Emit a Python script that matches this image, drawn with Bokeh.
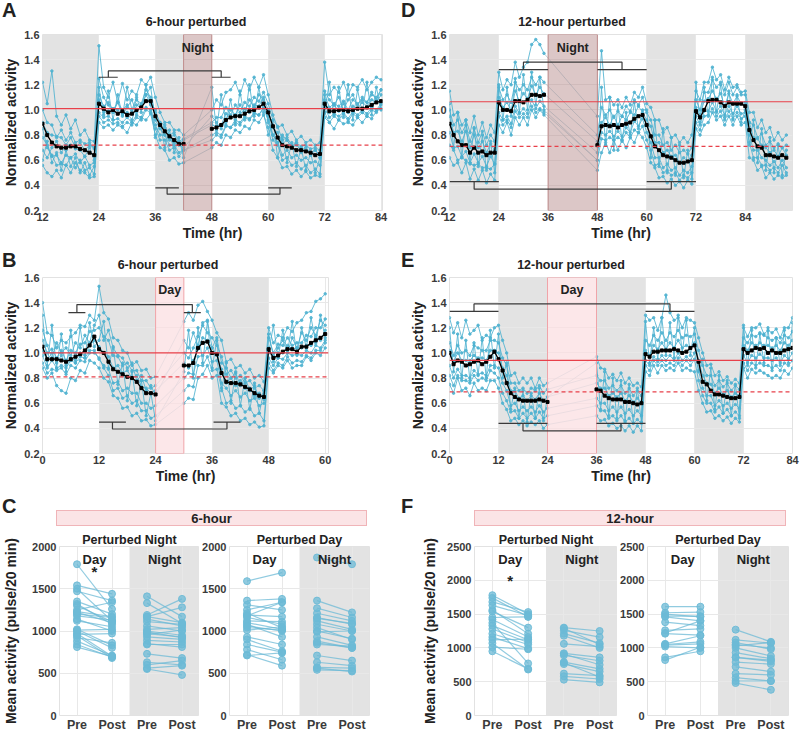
import math
from bokeh.plotting import figure
from bokeh.layouts import row, column
from bokeh.models import Label, Div, Range1d, FixedTicker, PrintfTickFormatter, Span
from bokeh.embed import file_html
from bokeh.resources import INLINE

# ---------------------------------------------------------------- data
Y_TICKS = [0.2, 0.4, 0.6, 0.8, 1.0, 1.2, 1.4, 1.6]

# ---- panel A : 6-hour perturbed night (values = normalized activity x 100)
A_HOURS = list(range(12, 43)) + list(range(48, 85))
A_XTICKS = [12, 24, 36, 48, 60, 72, 84]
A_NIGHTS = [(12, 24), (36, 42), (60, 72)]
A_BAND = (42, 48)
A_REF = (1.01, 0.72)
A_CMP_TOP = [24, 28, 48, 52, 1.26, 1.31]
A_CMP_BOT = [36, 41, 60, 65, 0.38, 0.33]
A_MEAN = [89,80,74,71,70,70,71,71,69,68,66,64, 105,101,98,100,97,99,96,97,100,102,107,107, 95,88,83,79,76,73,73,
          85,86,88,92,94,95,95,97,99,100,102,105, 98,87,78,72,71,70,68,68,67,66,64,65, 105,99,99,100,100,99,100,101,101,102,104,106,107]
A_TR1 = [122,105,131,95,88,96,85,92,80,84,76,75, 151,118,110,122,106,121,108,115,112,124,120,126, 110,98,90,90,84,84,80,
         100,108,104,114,116,122,112,124,116,126,118,128, 112,96,86,88,80,83,76,79,74,76,72,74, 138,112,118,114,122,112,120,118,124,116,122,126,124]
A_TR2 = [56,50,47,52,46,56,50,58,52,50,46,47, 90,86,88,84,88,86,82,90,88,94,92,97, 80,70,68,60,62,57,58,
         70,74,72,80,78,84,82,87,85,92,90,96, 86,68,62,54,55,49,52,47,51,46,48,47, 94,90,85,92,89,90,88,94,90,95,93,99,101]
A_TR3 = [100,90,88,78,84,76,82,74,76,73,74,69, 112,103,106,100,106,100,104,98,108,105,116,110, 98,90,88,80,82,75,77,
         90,94,94,102,96,104,98,106,103,110,107,114, 105,92,87,76,78,72,74,71,72,69,70,68, 112,102,105,103,107,100,108,105,108,106,112,110,116]
A_TR4 = [78,72,63,64,58,64,62,65,58,63,56,58, 98,94,95,92,93,90,94,90,96,94,102,100, 88,80,80,72,72,66,68,
         80,82,80,88,86,92,90,95,93,98,96,101, 95,80,74,64,68,62,64,60,62,58,59,56, 102,94,97,95,98,93,99,96,100,97,102,100,105]
A_TR5 = [90,82,80,79,78,72,72,69,68,63,70,60, 108,98,99,101,100,97,98,92,104,101,112,105, 100,88,86,78,80,73,76,
         88,87,88,97,94,96,96,101,98,104,103,110, 100,86,82,73,76,70,72,68,70,66,68,64, 108,98,104,99,105,98,103,101,106,103,108,106,112]
A_TR6 = [85,70,64,56,57,56,62,54,60,52,54,49, 95,90,92,89,90,87,90,88,94,92,100,98, 85,76,76,68,70,63,68,
         76,80,78,87,86,90,88,94,92,97,96,102, 92,76,72,60,62,56,58,53,56,50,53,49, 98,90,95,92,97,91,97,94,98,95,100,98,104]
A_TR7 = [68,62,70,75,66,72,78,70,74,68,72,70, 125,110,104,98,106,96,102,108,98,104,112,118, 92,85,80,76,74,72,70,
         95,90,85,92,100,96,104,98,108,102,112,108, 90,80,74,80,76,70,74,66,70,64,68,62, 115,108,104,110,100,108,112,104,110,106,114,108,116]
A_TR8 = [60,75,58,66,52,68,55,62,50,58,48,55, 118,96,115,92,112,95,118,100,110,98,120,104, 78,90,70,84,66,78,62,
         118,84,112,90,108,88,115,92,120,95,118,98, 80,92,62,78,58,74,55,70,52,66,50,62, 98,122,96,118,94,120,92,116,98,122,96,118,100]

# ---- panel B : 6-hour perturbed day
B_HOURS = list(range(0, 25)) + list(range(30, 61))
B_XTICKS = [0, 12, 24, 36, 48, 60]
B_NIGHTS = [(12, 24), (36, 48)]
B_BAND = (24, 30)
B_REF = (1.00, 0.81)
B_CMP_TOP = [5.5, 9.1, 30, 33.6, 1.32, 1.385]
B_CMP_BOT = [12, 17.7, 36.3, 42, 0.45, 0.395]
B_MEAN = [105,95,95,95,94,93,95,97,99,102,106,113, 103,100,93,87,85,83,81,80,77,72,68,68,67,
          90,90,92,104,108,109,100,99,84,77,76,76,75,73,71,68,66,65, 103,96,98,101,103,103,101,105,105,108,110,112,115]
B_TR1 = [140,116,114,104,110,108,113,116,122,121,130,126, 153,132,127,112,110,102,100,90,93,86,87,80,81,
         125,132,126,138,141,133,126,116,110,93,95,88,90,84,87,80,82,77, 120,108,114,112,120,117,124,126,132,133,141,143,147]
B_TR2 = [88,80,84,74,70,68,80,78,86,84,94,92, 88,80,77,66,64,56,57,50,52,46,47,42,43,
         60,64,63,80,83,90,80,82,60,57,50,52,46,48,43,45,41,42, 88,84,90,88,94,88,90,90,97,94,100,98,104]
B_TR3 = [110,100,103,96,102,94,102,100,107,108,117,118, 120,113,110,98,97,90,92,86,86,78,78,72,74,
         100,96,104,113,122,116,112,106,97,83,86,80,82,76,78,72,74,70, 112,100,107,106,112,106,108,108,114,113,120,120,127]
B_TR4 = [98,88,94,88,90,88,94,92,97,96,102,102, 95,90,87,76,77,70,72,68,68,60,60,56,58,
         80,84,83,97,98,104,93,94,76,72,66,70,65,68,62,64,58,60, 96,90,96,95,100,98,99,98,102,100,106,104,110]
B_TR5 = [102,94,100,92,98,90,96,94,100,98,106,110, 105,100,97,88,90,84,86,80,82,73,72,68,70,
         92,88,94,103,112,110,104,98,87,76,80,74,78,72,72,66,68,63, 104,93,100,100,106,103,104,104,106,106,112,110,118]
B_TR6 = [92,84,87,86,88,83,90,88,94,93,100,100, 96,88,82,70,72,64,66,60,62,54,54,48,50,
         70,74,73,90,90,97,86,87,72,60,62,56,58,53,56,50,52,46, 92,86,92,90,97,92,94,93,98,96,102,102,108]
B_TR7 = [118,106,96,108,100,104,98,108,104,114,108,122, 130,110,118,104,98,96,88,92,78,82,70,74,66,
         110,104,116,106,124,126,104,112,92,88,80,84,74,80,70,74,64,68, 115,98,104,110,100,112,104,116,110,120,114,126,122]
B_TR8 = [130,90,122,88,115,85,118,92,120,96,124,105, 110,125,88,105,75,92,62,85,58,78,50,68,46,
         85,118,80,120,92,125,88,110,70,92,60,85,58,80,55,76,52,70, 100,122,96,118,100,125,98,120,104,128,108,130,112]

# ---- panel D : 12-hour perturbed night
D_HOURS = list(range(12, 36)) + list(range(48, 95))
D_XTICKS = [12, 24, 36, 48, 60, 72, 84]
D_NIGHTS = [(12, 24), (60, 72), (84, 95.5)]
D_BAND = (36, 48)
D_REF = (1.065, 0.71)
D_CMP_TOP = [24, 36, 48, 60, 1.32, 1.38]
D_CMP_BOT = [12, 24, 60, 72, 0.43, 0.37]
D_MEAN = [89,80,75,72,72,66,70,66,67,64,66,66, 106,100,100,99,107,107,106,108,112,112,111,112,
          72,87,88,87,88,86,88,89,90,93,95,96, 88,79,71,68,64,63,62,60,58,58,59,60,
          99,94,100,107,108,108,106,103,106,105,105,105, 103,84,76,71,70,64,64,63,62,64,62]
D_TR1 = [115,96,98,88,92,82,95,80,90,78,88,82, 130,116,124,120,138,126,134,138,152,156,152,145,
         95,147,108,110,104,108,102,110,104,114,110,118, 105,102,92,92,82,86,78,80,74,78,74,80,
         115,108,122,122,134,124,128,116,126,118,120,114, 115,98,98,86,92,82,86,76,82,76,80]
D_TR2 = [62,56,58,50,58,45,53,44,52,42,49,44, 88,82,90,80,94,88,94,88,100,94,100,96,
         52,66,74,66,76,68,76,70,78,74,82,78, 70,58,54,46,47,42,45,40,43,38,44,41,
         85,80,88,90,98,92,95,88,95,88,95,88, 90,62,60,52,55,46,50,45,48,46,48]
D_TR3 = [100,88,92,82,88,75,85,74,83,72,80,75, 118,108,112,106,122,116,120,116,126,120,126,122,
         80,102,96,100,94,99,95,103,99,108,104,110, 98,92,80,80,72,74,68,72,66,68,65,70,
         108,100,114,114,124,118,122,112,122,112,118,112, 112,90,88,78,81,72,75,70,73,70,72]
D_TR4 = [82,70,71,63,67,58,65,58,63,55,63,57, 98,92,95,89,103,97,101,97,108,101,107,103,
         66,82,80,83,79,83,79,86,82,91,87,93, 82,74,62,62,54,57,52,54,48,52,50,55,
         95,88,99,99,106,99,103,96,103,97,103,97, 98,80,68,68,62,60,56,59,54,60,54]
D_TR5 = [95,82,83,75,83,70,80,70,75,66,73,68, 110,102,106,99,115,107,113,109,119,112,118,113,
         75,90,94,88,95,88,95,92,98,96,103,98, 92,87,74,74,66,68,63,64,58,62,59,64,
         102,96,107,109,115,109,113,103,113,105,111,105, 106,90,78,77,72,70,66,68,63,70,64]
D_TR6 = [72,68,60,62,60,57,56,57,54,54,53,57, 95,88,92,86,99,94,97,94,103,98,101,98,
         60,77,76,78,76,78,76,82,78,84,82,87, 76,68,56,57,50,52,48,50,44,48,46,50,
         90,84,95,96,101,95,99,92,99,93,98,93, 95,74,62,62,56,56,52,54,50,56,50]
D_TR7 = [105,70,98,62,92,58,86,55,80,52,75,50, 120,92,118,95,125,98,128,100,130,104,126,100,
         60,118,72,110,68,104,75,98,80,106,85,100, 100,62,92,55,85,50,78,48,72,46,68,45,
         122,90,118,95,126,98,120,94,115,92,112,90, 100,72,92,58,85,52,78,50,72,48,68]

# ---- panel E : 12-hour perturbed day
E_HOURS = list(range(0, 25)) + list(range(36, 85))
E_XTICKS = [0, 12, 24, 36, 48, 60, 72, 84]
E_NIGHTS = [(12, 24), (36, 48), (60, 72)]
E_BAND = (24, 36)
E_REF = (0.94, 0.69)
E_CMP_TOP = [0, 12, 48, 60, 1.33, 1.39]
E_CMP_BOT = [12, 24, 36, 48, 0.44, 0.38]
E_MEAN = [100,91,94,93,90,91,93,94,91,93,97,101, 95,86,76,68,65,63,62,62,62,62,63,62,61,
          71,70,66,64,63,63,63,61,61,60,59,60, 99,97,101,101,102,102,102,103,102,100,101,104,
          106,93,77,75,70,67,67,66,65,64,64,65, 103,100,102,104,103,104,100,102,100,100,102,103,104]
E_TR1 = [128,116,124,112,126,115,118,122,110,114,112,120, 122,110,100,82,84,76,80,76,80,72,80,74,76,
         97,88,87,80,83,78,84,76,80,74,76,73, 130,126,128,118,128,146,132,126,128,120,128,126,
         124,112,100,90,91,82,85,78,81,76,79,76, 120,113,120,120,123,115,118,116,119,112,120,120,128]
E_TR2 = [75,68,80,70,72,66,76,70,72,70,78,78, 72,60,55,46,48,43,46,42,45,43,46,40,43,
         50,46,47,42,44,40,42,38,42,37,42,38, 85,82,90,84,90,86,88,86,92,86,88,86,
         85,70,60,53,54,48,50,46,49,44,48,45, 88,80,87,84,86,84,82,80,82,80,86,83,88]
E_TR3 = [108,98,106,100,102,98,106,104,102,102,110,110, 108,96,90,76,76,70,72,68,72,70,74,68,71,
         82,78,78,72,74,70,74,68,72,66,70,66, 110,106,114,110,116,110,116,113,118,112,114,113,
         115,102,90,82,82,74,78,73,76,70,74,71, 112,108,114,113,116,114,112,110,112,108,114,112,117]
E_TR4 = [90,80,87,82,82,80,86,83,84,82,90,90, 88,76,70,58,60,54,57,54,57,53,58,53,56,
         64,60,60,54,57,53,57,52,55,50,54,50, 94,90,97,93,98,94,98,94,100,94,97,94,
         100,86,72,66,66,58,62,58,60,56,59,56, 98,92,98,96,99,96,96,94,96,92,98,95,100]
E_TR5 = [102,93,100,94,94,94,98,96,96,94,102,102, 100,88,82,70,70,64,66,62,66,63,68,62,65,
         76,72,72,66,68,65,68,62,66,61,64,61, 102,98,106,103,108,103,108,104,110,104,106,104,
         108,94,82,76,75,68,72,67,70,65,68,66, 106,102,108,106,108,106,106,104,106,102,108,106,110]
E_TR6 = [82,74,82,78,78,76,82,78,80,78,86,84, 80,68,62,53,54,48,52,48,52,48,53,48,50,
         58,54,54,48,50,46,50,45,48,44,47,44, 90,86,94,90,94,90,92,90,96,90,94,90,
         95,78,66,60,60,53,57,52,55,50,53,50, 92,86,92,90,92,90,90,88,90,86,92,90,94]
E_TR7 = [120,85,115,80,110,78,108,82,112,80,118,88, 115,80,92,55,72,48,70,45,68,48,72,46,65,
         92,55,85,50,80,48,78,46,75,44,72,45, 125,92,120,95,128,98,124,96,130,100,126,98,
         120,85,95,62,88,55,82,52,78,50,75,48, 122,90,118,88,115,92,120,86,112,90,118,92,124]

# ---- panels C / F : mean activity (pulse/20 min), Pre vs Post
PAIR_LABELS = ["Pre", "Post", "Pre", "Post"]
C_YTICKS = [0, 500, 1000, 1500, 2000]
F_YTICKS = [0, 500, 1000, 1500, 2000, 2500]
C_PN_DAY_PRE = [1790,1540,1500,1470,1350,1320,1250,1220,1200,1180,1140,1120,1020,1000,970,945,920,880,840,810,960,1010,1230,1300]
C_PN_DAY_POST = [1260,1440,1120,1360,1200,1080,1340,1100,1160,1130,1000,1050,830,800,700,680,860,710,690,700,970,1020,1170,1110]
C_PN_NIGHT_PRE = [1410,1330,1190,1170,1140,1110,1060,1020,1000,970,930,890,850,840,730,630,600,560,550,960,990,1170]
C_PN_NIGHT_POST = [1170,1090,1380,1280,1060,1080,1000,1040,950,930,900,870,810,840,680,600,650,590,480,1010,920,1100]
C_PD_DAY_PRE = [1590,1360,1310,1250,1210,1190,1160,1120,1080,1040,1010,930,900,840,780,720,710,1100,1180,1060]
C_PD_DAY_POST = [1690,1380,1250,1340,1040,1170,1080,1110,930,1010,1050,840,760,750,660,590,740,1020,1340,1000]
C_PD_NIGHT_PRE = [1870,1360,1270,1210,1160,1120,1080,1040,990,930,860,840,710,630,570,540,1150,1000,880,560]
C_PD_NIGHT_POST = [1790,1220,1160,1120,1080,1020,1000,900,1000,830,800,820,650,590,560,530,1090,910,800,520]
F_PN_DAY_PRE = [1780,1740,1680,1630,1560,1540,1450,1420,1370,1330,1280,1210,1160,1120,1070,1010,950]
F_PN_DAY_POST = [1500,1460,1530,1480,1210,1300,1460,1160,770,1120,1080,1050,990,1130,680,980,690]
F_PN_NIGHT_PRE = [1300,1260,1210,1060,920,890,790,760,620,580,530,1290,1180,910,780]
F_PN_NIGHT_POST = [1250,1160,1070,1020,860,810,690,650,590,540,490,1050,1000,750,570]
F_PD_DAY_PRE = [1610,1520,1470,1460,1380,1260,1210,1050,1040,1020,860,820,1500,1220,1060]
F_PD_DAY_POST = [1610,1530,1470,1400,1330,1280,1190,1090,1060,1000,950,1010,1460,1400,1180]
F_PD_NIGHT_PRE = [1270,1120,1050,1000,930,860,790,720,620,560,510,480,1030,860,1080]
F_PD_NIGHT_POST = [1090,1070,1000,880,840,800,760,650,600,510,510,380,1080,820,980]
C_STAR = 1700
F_STAR = 2000

# ---------------------------------------------------------------- style
FONT = "Liberation Sans"
GRAY = "#e3e3e3"
BLUE = "#4db2d0"
GAPBLUE = "#a6c6d2"
RED = "#e8404a"
BRACKET = "#3a3a3a"
PT = "#6cbad6"
TXT = "#222222"
BAND_NIGHT = dict(fill_color="#b58a8a", fill_alpha=0.48, line_color="#bf8c8c", line_width=1)
BAND_DAY = dict(fill_color="#fbdfe1", fill_alpha=0.75, line_color="#f0a4a9", line_width=1)


def style(p, tick_size="11px"):
    p.outline_line_color = "#e2e2e2"
    for ax in (p.xaxis, p.yaxis):
        ax.axis_line_color = None
        ax.major_tick_line_color = None
        ax.minor_tick_line_color = None
        ax.major_tick_out = 0
        ax.major_tick_in = 0
        ax.minor_tick_out = 0
        ax.minor_tick_in = 0
        ax.major_label_text_font = FONT
        ax.major_label_text_font_style = "bold"
        ax.major_label_text_font_size = tick_size
        ax.major_label_text_color = "#3a3a3a"
        ax.axis_label_text_font = FONT
        ax.axis_label_text_font_style = "bold"
        ax.axis_label_text_color = TXT
    p.xaxis.major_label_standoff = 2
    p.yaxis.major_label_standoff = 3
    p.grid.grid_line_color = "#e8e8e8"
    p.grid.level = "underlay"


def lab(p, x, y, text, size, xo=0, yo=0, align="center", base="alphabetic"):
    p.add_layout(Label(x=x, y=y, text=text, x_offset=xo, y_offset=yo, text_align=align,
                       text_baseline=base, text_font=FONT, text_font_size=f"{size}px",
                       text_font_style="bold", text_color=TXT))


def segments(hours, vals):
    assert len(hours) == len(vals), (len(hours), len(vals))
    segs = []
    for h, v in zip(hours, vals):
        if segs and h - segs[-1][0][-1] <= 1:
            segs[-1][0].append(h)
            segs[-1][1].append(v / 100)
        else:
            segs.append(([h], [v / 100]))
    return segs


def ts_panel(width, height, borders, xr, xticks, hours, mean, traces, nights, band, band_kind,
             ref, cmp_top, cmp_bot, band_text, band_yo):
    mbl, mbr, mbt, mbb = borders
    y0, y1 = Y_TICKS[0], Y_TICKS[-1]
    p = figure(width=width, height=height, x_range=Range1d(*xr), y_range=Range1d(y0, y1),
               output_backend="svg", toolbar_location=None, min_border_left=mbl,
               min_border_right=mbr, min_border_top=mbt, min_border_bottom=mbb, margin=0)
    style(p)
    p.xaxis.ticker = FixedTicker(ticks=xticks)
    p.yaxis.ticker = FixedTicker(ticks=Y_TICKS)
    p.yaxis.formatter = PrintfTickFormatter(format="%.1f")
    p.xaxis.axis_label = "Time (hr)"
    p.xaxis.axis_label_text_font_size = "14px"
    p.xaxis.axis_label_standoff = 1
    p.yaxis.axis_label = "Normalized activity"
    p.yaxis.axis_label_text_font_size = "14px"
    p.yaxis.axis_label_standoff = 2
    p.quad(left=[a for a, b in nights], right=[b for a, b in nights], bottom=y0, top=y1,
           fill_color=GRAY, line_color=None, level="image")
    xs, ys, gx, gy, dx, dy = [], [], [], [], [], []
    for tr in traces:
        segs = segments(hours, tr)
        for s in segs:
            xs.append(s[0]); ys.append(s[1]); dx += s[0]; dy += s[1]
        for a, b in zip(segs[:-1], segs[1:]):
            gx.append([a[0][-1], b[0][0]]); gy.append([a[1][-1], b[1][0]])
    p.multi_line(xs=gx, ys=gy, line_color=GAPBLUE, line_alpha=0.75, line_width=1)
    p.multi_line(xs=xs, ys=ys, line_color=BLUE, line_alpha=0.85, line_width=1)
    p.scatter(dx, dy, size=2.5, color=BLUE, alpha=0.85)
    p.quad(left=[band[0]], right=[band[1]], bottom=y0, top=y1, **band_kind)
    p.add_layout(Span(location=ref[0], dimension="width", line_color=RED, line_width=1.2))
    p.add_layout(Span(location=ref[1], dimension="width", line_color=RED, line_width=1.2,
                      line_dash="4 3"))
    ms = segments(hours, mean)
    p.multi_line(xs=[s[0] for s in ms], ys=[s[1] for s in ms], line_color="black", line_width=1.3)
    p.scatter([h for s in ms for h in s[0]], [v for s in ms for v in s[1]], marker="square",
              size=3, color="black")
    for c in (cmp_top, cmp_bot):
        l0, l1, r0, r1, yb, yt = c
        lm, rm = (l0 + l1) / 2, (r0 + r1) / 2
        p.multi_line(xs=[[l0, l1], [r0, r1], [lm, lm, rm, rm]],
                     ys=[[yb, yb], [yb, yb], [yb, yt, yt, yb]], line_color=BRACKET, line_width=1.2)
    lab(p, (band[0] + band[1]) / 2, y1, band_text, 12.5, yo=band_yo)
    return p


def pair_panel(width, height, borders, yticks, day_pre, day_post, night_pre, night_post,
               title, star_y=None, ylabel_standoff=None):
    mbl, mbr, mbt, mbb = borders
    ymax = yticks[-1]
    p = figure(width=width, height=height, x_range=Range1d(0.5, 4.5), y_range=Range1d(0, ymax),
               output_backend="svg", toolbar_location=None, min_border_left=mbl,
               min_border_right=mbr, min_border_top=mbt, min_border_bottom=mbb, title=title,
               margin=0)
    style(p)
    p.title.align = "center"
    p.title.text_font = FONT
    p.title.text_font_size = "12.5px"
    p.title.text_font_style = "bold"
    p.title.text_color = TXT
    p.title.standoff = 0
    p.xaxis.major_label_text_font_size = "12.5px"
    p.xaxis.ticker = FixedTicker(ticks=[1, 2, 3, 4])
    p.xaxis.major_label_overrides = {i + 1: t for i, t in enumerate(PAIR_LABELS)}
    p.yaxis.ticker = FixedTicker(ticks=yticks)
    if ylabel_standoff is not None:
        p.yaxis.axis_label = "Mean activity (pulse/20 min)"
        p.yaxis.axis_label_text_font_size = "14px"
        p.yaxis.axis_label_standoff = ylabel_standoff
    p.quad(left=[2.5], right=[4.5], bottom=0, top=ymax, fill_color=GRAY, line_color=None,
           level="image")
    for pre, post, xa, xb in ((day_pre, day_post, 1, 2), (night_pre, night_post, 3, 4)):
        p.multi_line(xs=[[xa, xb] for _ in pre], ys=[[a, b] for a, b in zip(pre, post)],
                     line_color=PT, line_alpha=0.75, line_width=1.2)
        p.scatter([xa] * len(pre) + [xb] * len(post), list(pre) + list(post), size=7,
                  fill_color=PT, fill_alpha=0.75, line_color=PT, line_alpha=0.9)
    lab(p, 1.5, ymax, "Day", 13, yo=-13)
    lab(p, 3.5, ymax, "Night", 13, yo=-13)
    if star_y is not None:
        lab(p, 1.5, star_y, "*", 15, base="middle")
    return p


def strip(height, items):
    parts = []
    for text, left, top, width, size, kind in items:
        if kind == "letter":
            parts.append(f'<div style="position:absolute;left:{left}px;top:{top}px;font-size:{size}px;'
                         f'font-weight:bold;line-height:20px;">{text}</div>')
        elif kind == "title":
            parts.append(f'<div style="position:absolute;left:{left}px;top:{top}px;width:{width}px;'
                         f'text-align:center;font-size:{size}px;font-weight:bold;line-height:14px;'
                         f'white-space:nowrap;">{text}</div>')
        else:
            parts.append(f'<div style="position:absolute;left:{left}px;top:{top}px;width:{width}px;'
                         'height:16px;background:#fbe4e6;border:1px solid #f0b4b8;text-align:center;'
                         f'font-size:{size}px;font-weight:bold;line-height:16px;">{text}</div>')
    html = (f'<div style="position:relative;width:800px;height:{height}px;'
            'font-family:\'Liberation Sans\',Arial,sans-serif;color:#222;">' + "".join(parts) + '</div>')
    return Div(text=html, width=800, height=height, margin=0, styles={"padding": "0px"})


s1 = strip(29, [("A", 2, 0, 0, 20, "letter"), ("D", 401, 0, 0, 20, "letter"),
                ("6-hour perturbed", 96, 15, 200, 12.5, "title"),
                ("12-hour perturbed", 472, 15, 200, 12.5, "title")])
s2 = strip(29, [("B", 2, 7, 0, 20, "letter"), ("E", 401, 7, 0, 20, "letter"),
                ("6-hour perturbed", 68, 15, 200, 12.5, "title"),
                ("12-hour perturbed", 471, 15, 200, 12.5, "title")])
s3 = strip(44, [("C", 2, 10, 0, 20, "letter"), ("F", 401, 10, 0, 20, "letter"),
                ("6-hour", 56, 24, 311, 13, "box"), ("12-hour", 474, 24, 312, 13, "box")])

pA = ts_panel(400, 214, (39, 18, 5, 32), (12, 84.3), A_XTICKS, A_HOURS, A_MEAN,
              [A_TR1, A_TR2, A_TR3, A_TR4, A_TR5, A_TR6, A_TR7, A_TR8], A_NIGHTS, A_BAND,
              BAND_NIGHT, A_REF, A_CMP_TOP, A_CMP_BOT, "Night", -13)
pD = ts_panel(400, 214, (49, 8, 5, 32), (12, 95.5), D_XTICKS, D_HOURS, D_MEAN,
              [D_TR1, D_TR2, D_TR3, D_TR4, D_TR5, D_TR6, D_TR7], D_NIGHTS, D_BAND, BAND_NIGHT,
              D_REF, D_CMP_TOP, D_CMP_BOT, "Night", -13)
pB = ts_panel(400, 214, (39, 72, 5, 32), (0, 60.7), B_XTICKS, B_HOURS, B_MEAN,
              [B_TR1, B_TR2, B_TR3, B_TR4, B_TR5, B_TR6, B_TR7, B_TR8], B_NIGHTS, B_BAND,
              BAND_DAY, B_REF, B_CMP_TOP, B_CMP_BOT, "Day", -12)
pE = ts_panel(400, 214, (49, 8, 5, 32), (0, 84), E_XTICKS, E_HOURS, E_MEAN,
              [E_TR1, E_TR2, E_TR3, E_TR4, E_TR5, E_TR6, E_TR7], E_NIGHTS, E_BAND, BAND_DAY,
              E_REF, E_CMP_TOP, E_CMP_BOT, "Day", -12)

pC1 = pair_panel(199, 204, (56, 0, 16, 19), C_YTICKS, C_PN_DAY_PRE, C_PN_DAY_POST,
                 C_PN_NIGHT_PRE, C_PN_NIGHT_POST, "Perturbed Night", C_STAR, 10)
pC2 = pair_panel(201, 204, (28, 31, 16, 19), C_YTICKS, C_PD_DAY_PRE, C_PD_DAY_POST,
                 C_PD_NIGHT_PRE, C_PD_NIGHT_POST, "Perturbed Day")
pF1 = pair_panel(217, 204, (74, 0, 16, 19), F_YTICKS, F_PN_DAY_PRE, F_PN_DAY_POST,
                 F_PN_NIGHT_PRE, F_PN_NIGHT_POST, "Perturbed Night", F_STAR, 6)
pF2 = pair_panel(183, 204, (28, 12, 16, 19), F_YTICKS, F_PD_DAY_PRE, F_PD_DAY_POST,
                 F_PD_NIGHT_PRE, F_PD_NIGHT_POST, "Perturbed Day")

layout = column(s1, row(pA, pD, spacing=0), s2, row(pB, pE, spacing=0), s3,
                row(pC1, pC2, pF1, pF2, spacing=0), spacing=0)

open("out.html", "w").write(file_html(layout, INLINE))
